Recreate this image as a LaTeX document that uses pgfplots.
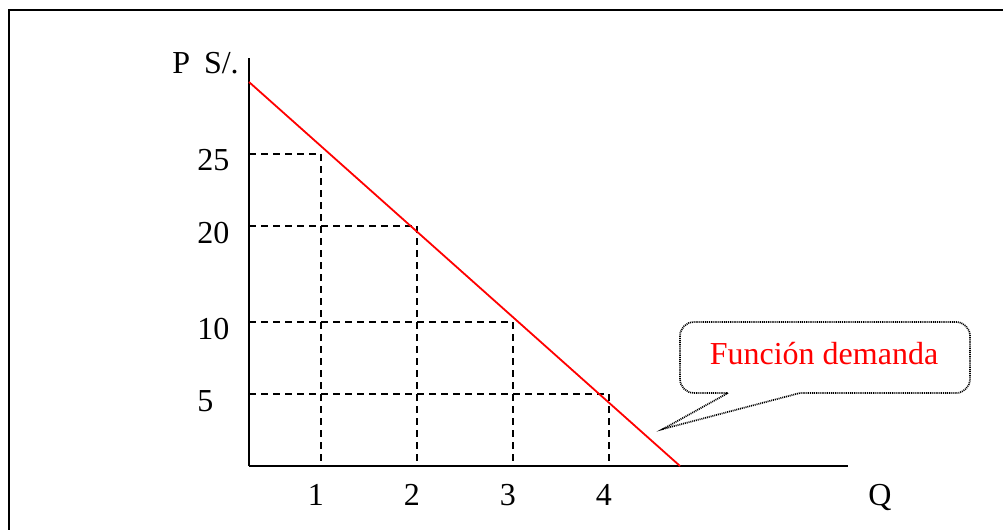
\documentclass[border=0pt]{standalone}
\usepackage{fontspec}
\setmainfont{Liberation Serif}
\usepackage{pgfplots}
\pgfplotsset{compat=1.18}

% price axis of the drawing is not linear: 5 and 10 are wider apart than 10 and 20
\pgfplotsset{
  price axis/.style={
    y coord trafo/.code={\pgfmathparse{(##1<=10)*14.4*##1 + (##1>10)*(##1<=20)*(144+9.6*(##1-10)) + (##1>20)*(240+14.4*(##1-20))}},
  },
}

\begin{document}
\begin{tikzpicture}[font=\fontsize{16}{19}\selectfont]
\path[use as bounding box] (0,0) rectangle (501.5pt,-265pt);
\clip (0,0) rectangle (501.5pt,-265pt);

\begin{axis}[
    at={(124.5pt,-233pt)}, anchor=south west,
    scale only axis, width=299.5pt, height=204pt,
    price axis,
    xmin=0.25, xmax=6.49,
    ymin=0, ymax=31.667,
    axis lines=left,
    axis line style={-, line width=1pt},
    major tick length=0pt,
    xtick={1,2,3,4}, xticklabels={1,2,3,4},
    ytick={5,10,20,25}, yticklabels={5,10,20,25},
    tick label style={font=\fontsize{16}{19}\selectfont, inner sep=0pt},
    xticklabel style={anchor=base, yshift=-19.5pt, xshift=-2.5pt},
    yticklabel style={anchor=base west, xshift=-26pt, yshift=-8.5pt},
    xlabel={Q},
    ylabel={P\hspace{7pt}S/.},
    label style={font=\fontsize{16}{19}\selectfont},
    xlabel style={at={(axis description cs:1.0534,-0.098)}, anchor=base},
    ylabel style={rotate=-90, at={(axis description cs:-0.0726,0.963)}, anchor=base},
    clip=false,
]

% guide lines from each price to its quantity
\addplot[black, line width=1pt, dash pattern=on 3.5pt off 2.5pt] coordinates {(0.25,25) (1,25) (1,0)};
\addplot[black, line width=1pt, dash pattern=on 3.5pt off 2.5pt] coordinates {(0.25,20) (2,20) (2,0)};
\addplot[black, line width=1pt, dash pattern=on 3.5pt off 2.5pt] coordinates {(0.25,10) (3,10) (3,0)};
\addplot[black, line width=1pt, dash pattern=on 3.5pt off 2.5pt] coordinates {(0.25,5) (4,5) (4,0)};

% demand line
\addplot[red, line width=0.9pt] coordinates {(0.25,30) (4.74,0)};

\end{axis}

\begin{scope}[x=0.5pt, y=-0.5pt]
  \draw[line width=1pt] (9,10) rectangle (1030,560);
  \draw[line width=0.85pt, dash pattern=on 0.5pt off 0.45pt]
    (728,393) -- (663,429) -- (800,393) [rounded corners=7pt] -- (970,393) -- (970,322)
    -- (680,322) -- (680,393) -- (728,393);
  \node[red, anchor=base, inner sep=0pt] at (824,364) {Función demanda};
\end{scope}
\end{tikzpicture}
\end{document}
